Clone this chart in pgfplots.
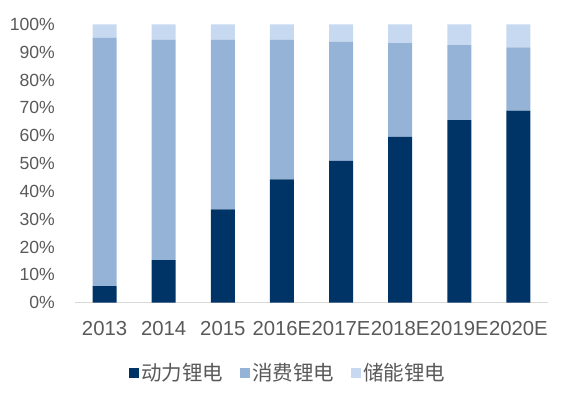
\documentclass[border=0pt]{standalone}
\usepackage{fontspec}
\setmainfont{Liberation Sans}
\newfontfamily\cjk{Noto Sans CJK SC}
\usepackage{pgfplots}
\pgfplotsset{compat=1.18}
\definecolor{cDark}{RGB}{0,51,102}
\definecolor{cMid}{RGB}{149,179,215}
\definecolor{cLight}{RGB}{198,217,240}
\definecolor{cText}{RGB}{89,89,89}
\definecolor{cAxis}{RGB}{217,217,217}
\begin{document}
\begin{tikzpicture}
\begin{axis}[
  name=ax,
  scale only axis,
  width=473pt, height=278.4pt,
  xmin=-0.5, xmax=7.5, ymin=0, ymax=100,
  ybar stacked, bar width=24pt,
  axis lines*=left,
  y axis line style={draw=none},
  x axis line style={draw=cAxis, line width=1.2pt},
  major tick length=0pt,
  xtick={0,...,7},
  xticklabels={2013,2014,2015,2016E,2017E,2018E,2019E,2020E},
  ytick={0,10,...,100},
  yticklabel={\pgfmathprintnumber{\tick}\%},
  /pgf/number format/assume math mode=true,
  xticklabel style={font=\fontsize{20.3}{21}\selectfont, text=cText, inner sep=0pt, anchor=north, yshift=-18pt},
  yticklabel style={font=\fontsize{17.6}{18}\selectfont, text=cText, inner sep=0pt, anchor=east, xshift=-20pt},
  legend columns=3,
  legend style={at={(axis description cs:0.5,0)}, anchor=center, xshift=-23pt, yshift=-70pt,
    draw=none, fill=none, inner sep=0pt,
    font=\cjk\fontsize{20.5}{22}\selectfont, text=cText,
    nodes={inner sep=2.5pt},
    /tikz/every even column/.append style={column sep=14pt}},
  legend image code/.code={\fill[#1] (0pt,-5pt) rectangle (10pt,5pt);},
]
\addplot[fill=cDark, draw=none] coordinates {(0,6.0) (1,15.3) (2,33.5) (3,44.3) (4,50.9) (5,59.6) (6,65.6) (7,69.0)};
\addplot[fill=cMid, draw=none] coordinates {(0,89.1) (1,79.1) (2,60.9) (3,50.1) (4,42.9) (5,33.6) (6,26.9) (7,22.7)};
\addplot[fill=cLight, draw=none] coordinates {(0,4.9) (1,5.6) (2,5.6) (3,5.6) (4,6.2) (5,6.8) (6,7.5) (7,8.3)};
\legend{动力锂电,消费锂电,储能锂电}
\end{axis}
\pgfresetboundingbox
\path[use as bounding box] (ax.south west) ++(-75pt,-89.3pt) rectangle ++(574pt,392pt);
\end{tikzpicture}
\end{document}
